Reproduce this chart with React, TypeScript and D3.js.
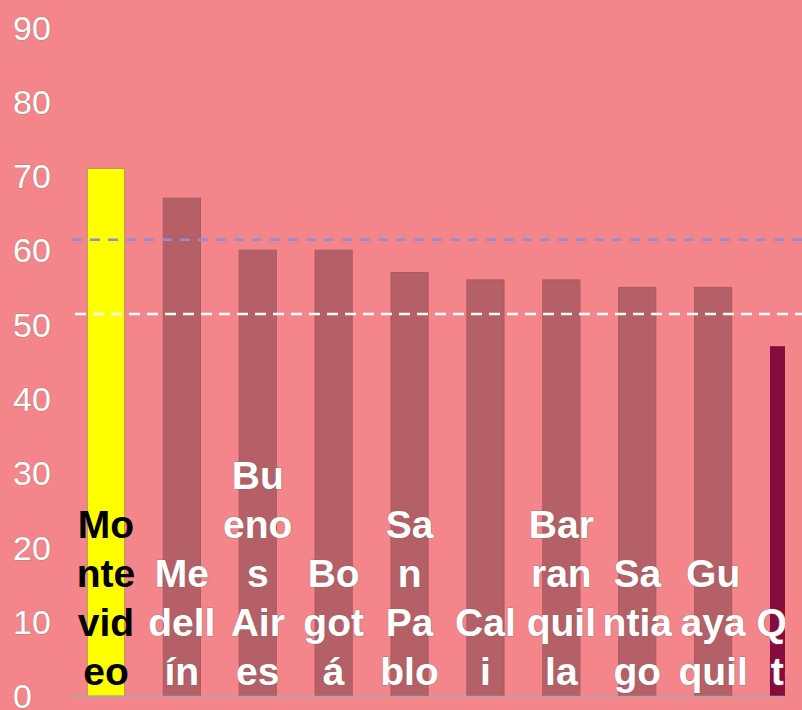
import React, { useEffect, useRef } from "react";
import * as d3 from "d3";

// city values
const cities = ["Montevideo", "Medellín", "Buenos Aires", "Bogotá", "San Pablo", "Cali", "Barranquilla", "Santiago", "Guayaquil", "Quito"];
const values = [71, 67, 60, 60, 57, 56, 56, 55, 55, 47];
const barColors = ["#ffff00", "#b55f66", "#b55f66", "#b55f66", "#b55f66", "#b55f66", "#b55f66", "#b55f66", "#b55f66", "#870c3e"];
const labelColors = ["#000000", "#ffffff", "#ffffff", "#ffffff", "#ffffff", "#ffffff", "#ffffff", "#ffffff", "#ffffff", "#ffffff"];
const yTicks = [0, 10, 20, 30, 40, 50, 60, 70, 80, 90];
const refLines = [
  { value: 61.4, color: "#8e8edb", dash: "10 8", x0: 72 },
  { value: 51.4, color: "#ffffff", dash: "11 7", x0: 75 },
];

const W = 802;
const H = 710;

export default function App() {
  const ref = useRef<SVGSVGElement>(null);

  useEffect(() => {
    const svg = d3.select(ref.current);
    svg.selectAll("*").remove();

    const y = d3.scaleLinear().domain([0, 90]).range([696, 27.3]);
    const x = d3.scaleBand().domain(cities).range([68, 827]).paddingInner(0.51).paddingOuter(0.255);

    svg.append("rect").attr("width", W).attr("height", H).attr("fill", "#f4868b");

    svg.append("clipPath").attr("id", "plotclip")
      .append("rect").attr("x", 0).attr("y", 0).attr("width", 785).attr("height", H);

    // y tick labels, left aligned
    svg.append("g").selectAll("text").data(yTicks).join("text")
      .attr("x", 13)
      .attr("y", (d) => y(d))
      .attr("dy", "0.36em")
      .attr("font-family", "Liberation Sans, Arial, sans-serif")
      .attr("font-size", 34)
      .attr("fill", "#ffffff")
      .attr("stroke", "rgba(110,110,110,0.55)")
      .attr("stroke-width", 1)
      .style("paint-order", "stroke")
      .text((d) => d);

    const plot = svg.append("g").attr("clip-path", "url(#plotclip)");

    plot.selectAll("rect.bar").data(cities).join("rect")
      .attr("class", "bar")
      .attr("x", (d) => x(d)!)
      .attr("width", x.bandwidth())
      .attr("y", (d, i) => y(values[i]))
      .attr("height", (d, i) => y(0) - y(values[i]))
      .attr("fill", (d, i) => barColors[i])
      .attr("stroke", (d, i) => (i === 0 ? "#b39a5c" : d3.color(barColors[i])!.darker(0.15).toString()))
      .attr("stroke-width", 1);

    // reference lines
    svg.append("g").selectAll("line").data(refLines).join("line")
      .attr("x1", (d) => d.x0)
      .attr("x2", W)
      .attr("y1", (d) => y(d.value))
      .attr("y2", (d) => y(d.value))
      .attr("stroke", (d) => d.color)
      .attr("stroke-width", 2.5)
      .attr("stroke-dasharray", (d) => d.dash);

    // baseline
    plot.append("line")
      .attr("x1", 68).attr("x2", 827)
      .attr("y1", y(0) + 0.5).attr("y2", y(0) + 0.5)
      .attr("stroke", "#a9a9a9").attr("stroke-width", 1.5);

    // labels, wrapped by character to fit the bar step
    const fontSize = 39;
    const maxW = fontSize * 1.803;
    const lineH = 49;
    const baseY = 685;
    const labels = plot.append("g");
    const measure = labels.append("text")
      .attr("font-family", "Liberation Sans, Arial, sans-serif")
      .attr("font-weight", "bold")
      .attr("font-size", fontSize);
    const width = (s: string) => {
      measure.text(s);
      return (measure.node() as SVGTextElement).getComputedTextLength();
    };

    cities.forEach((name, i) => {
      const lines: string[] = [];
      name.split(" ").forEach((word) => {
        let cur = "";
        for (const ch of word) {
          if (cur && width(cur + ch) > maxW) {
            lines.push(cur);
            cur = ch;
          } else cur += ch;
        }
        if (cur) lines.push(cur);
      });
      const cx = x(name)! + x.bandwidth() / 2;
      labels.append("g").selectAll("text").data(lines).join("text")
        .attr("x", cx)
        .attr("y", (d, j) => baseY - (lines.length - 1 - j) * lineH)
        .attr("text-anchor", "middle")
        .attr("font-family", "Liberation Sans, Arial, sans-serif")
        .attr("font-weight", "bold")
        .attr("font-size", fontSize)
        .attr("fill", labelColors[i])
        .attr("stroke", i === 0 ? "none" : "rgba(110,110,110,0.55)")
        .attr("stroke-width", 1.2)
        .style("paint-order", "stroke")
        .text((d) => d);
    });
    measure.remove();
  }, []);

  return (
    <div style={{ position: "absolute", left: 0, top: 0 }}>
      <svg ref={ref} width={W} height={H} style={{ display: "block" }} />
    </div>
  );
}
